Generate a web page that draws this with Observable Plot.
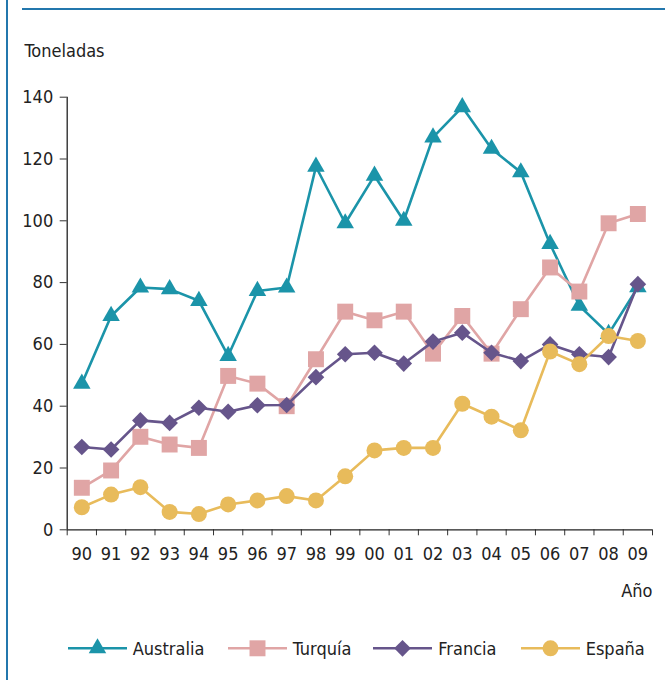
<!DOCTYPE html>
<html>
<head>
<meta charset="utf-8">
<script src="https://cdn.jsdelivr.net/npm/d3@7"></script>
<script src="https://cdn.jsdelivr.net/npm/@observablehq/plot@0.6"></script>
<style>
  html, body { margin: 0; padding: 0; background: #fff; }
  #wrap { position: relative; width: 665px; height: 680px; overflow: hidden;
          font-family: "Liberation Sans Narrow", "DejaVu Sans Condensed", "Roboto Condensed", sans-serif; color: #222; }
  #leftbar { position: absolute; left: 6px; top: 0; width: 2px; height: 680px; background: #2377ad; }
  #topbar { position: absolute; left: 22px; top: 8px; width: 643px; height: 2px; background: #2377ad; }
  #chart { position: absolute; left: 0; top: 0; }
  .leg { position: absolute; top: 637px; height: 22px; display: flex; align-items: center; font-size: 18px; }
  .leg svg { display: block; margin-right: 6px; }
</style>
</head>
<body>
<div id="wrap">
  <div id="leftbar"></div>
  <div id="topbar"></div>
  <div id="chart"></div>
</div>
<script>
const FONT = '"Liberation Sans Narrow", "DejaVu Sans Condensed", "Roboto Condensed", sans-serif';

const years = ["90","91","92","93","94","95","96","97","98","99","00","01","02","03","04","05","06","07","08","09"];
const yTicks = [0, 20, 40, 60, 80, 100, 120, 140];
const seriesNames = ["Australia", "Turquía", "Francia", "España"];
const seriesColors = ["#1b94a9", "#e0a5a5", "#66558b", "#e8bb5b"];

const australia = [47.3, 69.2, 78.4, 77.9, 74.1, 56.3, 77.3, 78.4, 117.5, 99.2, 114.6, 100.0, 127.0, 136.8, 123.3, 115.7, 92.5, 72.5, 63.4, 78.5];
const turquia   = [13.6, 19.2, 30.1, 27.6, 26.5, 49.8, 47.3, 40.0, 55.2, 70.6, 67.8, 70.6, 57.0, 69.2, 57.0, 71.4, 84.9, 77.1, 99.2, 102.2];
const francia   = [26.8, 26.0, 35.4, 34.6, 39.5, 38.2, 40.3, 40.4, 49.4, 56.8, 57.3, 53.8, 60.9, 63.8, 57.3, 54.6, 60.0, 56.8, 55.9, 79.5];
const espana    = [7.3, 11.4, 13.8, 5.8, 5.1, 8.2, 9.5, 10.9, 9.5, 17.3, 25.7, 26.5, 26.5, 40.8, 36.6, 32.2, 57.7, 53.6, 62.7, 61.1];

const seriesValues = [australia, turquia, francia, espana];
const seriesSymbols = [d3.symbolTriangle, d3.symbolSquare, d3.symbolDiamond2, d3.symbolCircle];
const seriesR = [6.5, 9, 7.5, 8];

const rows = seriesValues.map(vals => vals.map((v, i) => ({i, v})));

const seriesMarks = [];
seriesNames.forEach((name, k) => {
  seriesMarks.push(Plot.line(rows[k], {x: "i", y: "v", stroke: seriesColors[k], strokeWidth: 2.6, curve: "linear"}));
  seriesMarks.push(Plot.dot(rows[k], {x: "i", y: "v", symbol: seriesSymbols[k], r: seriesR[k], fill: seriesColors[k], stroke: "none"}));
});

const chart = Plot.plot({
  width: 665,
  height: 680,
  marginLeft: 66.7,
  marginRight: 13,
  marginTop: 96.7,
  marginBottom: 150.7,
  x: {domain: [-0.5, years.length - 0.5]},
  y: {domain: [0, 140]},
  style: {fontFamily: FONT, fontSize: "18px", color: "#222", background: "transparent", overflow: "visible"},
  marks: [
    Plot.axisY({ticks: yTicks, tickSize: 7, tickPadding: 7, label: null, stroke: "#333"}),
    Plot.axisX({ticks: d3.range(-0.5, years.length + 0.5, 1), tickSize: 6, tickFormat: () => "", label: null, stroke: "#333"}),
    Plot.axisX({ticks: d3.range(0, years.length), tickSize: 0, tickPadding: 17.5, tickFormat: i => years[i], label: null}),
    Plot.ruleX([-0.5], {y1: 0, y2: 140, stroke: "#222", strokeWidth: 1.3}),
    Plot.ruleY([0], {x1: -0.5, x2: years.length - 0.5, stroke: "#222", strokeWidth: 1.3}),
    ...seriesMarks,
    Plot.text(["Toneladas"], {frameAnchor: "top-left", dx: 24 - 66.7, dy: 56.7 - 96.7, textAnchor: "start", lineAnchor: "bottom", fontSize: 18, fill: "#222"}),
    Plot.text(["Año"], {frameAnchor: "bottom-right", dy: 596.7 - 529.3, textAnchor: "end", lineAnchor: "bottom", fontSize: 18, fill: "#222"})
  ]
});
document.getElementById("chart").appendChild(chart);

// Legend
const legLeft = [67.7, 227.7, 373.3, 520.7];
const wrap = document.getElementById("wrap");
seriesNames.forEach((name, k) => {
  const item = document.createElement("div");
  item.className = "leg";
  item.style.left = legLeft[k] + "px";
  const svg = d3.create("svg").attr("width", 59).attr("height", 22);
  svg.append("line").attr("x1", 0).attr("x2", 59).attr("y1", 11.3).attr("y2", 11.3)
     .attr("stroke", seriesColors[k]).attr("stroke-width", 2.6);
  svg.append("path").attr("transform", "translate(29.5,11.3)")
     .attr("d", d3.symbol(seriesSymbols[k], Math.PI * seriesR[k] * seriesR[k])())
     .attr("fill", seriesColors[k]);
  item.appendChild(svg.node());
  const span = document.createElement("span");
  span.textContent = name;
  item.appendChild(span);
  wrap.appendChild(item);
});
</script>
</body>
</html>
